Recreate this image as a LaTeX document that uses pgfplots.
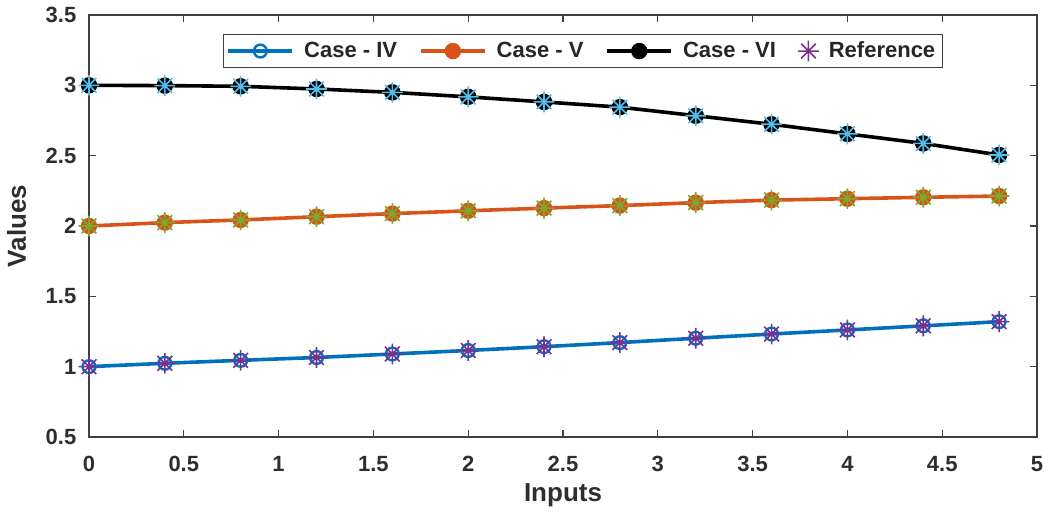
\documentclass[border=0pt]{standalone}
\usepackage{pgfplots}
\pgfplotsset{compat=1.18}
\usepackage{fontspec}
\setmainfont{Liberation Sans}
\definecolor{mblue}{rgb}{0,0.447,0.741}
\definecolor{morange}{rgb}{0.85,0.325,0.098}
\definecolor{mpurple}{rgb}{0.494,0.184,0.556}
\definecolor{mgreen}{rgb}{0.466,0.674,0.188}
\definecolor{mcyan}{rgb}{0.301,0.745,0.933}
\definecolor{axgray}{rgb}{0.25,0.25,0.25}
\pgfdeclareplotmark{ast8}{%
  \pgfpathmoveto{\pgfqpoint{-\pgfplotmarksize}{0pt}}\pgfpathlineto{\pgfqpoint{\pgfplotmarksize}{0pt}}%
  \pgfpathmoveto{\pgfqpoint{0pt}{-\pgfplotmarksize}}\pgfpathlineto{\pgfqpoint{0pt}{\pgfplotmarksize}}%
  \pgfpathmoveto{\pgfqpoint{-0.707\pgfplotmarksize}{-0.707\pgfplotmarksize}}\pgfpathlineto{\pgfqpoint{0.707\pgfplotmarksize}{0.707\pgfplotmarksize}}%
  \pgfpathmoveto{\pgfqpoint{-0.707\pgfplotmarksize}{0.707\pgfplotmarksize}}\pgfpathlineto{\pgfqpoint{0.707\pgfplotmarksize}{-0.707\pgfplotmarksize}}%
  \pgfusepathqstroke}
\begin{document}
\begin{tikzpicture}
\begin{axis}[
  scale only axis,
  width=474pt, height=211pt,
  xmin=0, xmax=5, ymin=0.5, ymax=3.5,
  xtick={0,0.5,...,5}, ytick={0.5,1,...,3.5},
  xticklabels={0,0.5,1,1.5,2,2.5,3,3.5,4,4.5,5},
  yticklabels={0.5,1,1.5,2,2.5,3,3.5},
  tick align=inside,
  major tick length=3.5pt,
  tick style={axgray, line width=0.6pt},
  axis line style={axgray, line width=0.6pt},
  ticklabel style={font=\fontsize{11}{13}\selectfont\bfseries, text=black!82},
  xticklabel style={yshift=-6pt},
  yticklabel style={xshift=-2.8pt},
  xlabel={Inputs}, ylabel={Values},
  label style={font=\fontsize{13}{15}\selectfont\bfseries, text=black!82},
  xlabel style={at={(axis description cs:0.5,-0.154)}, anchor=base},
  ylabel style={at={(axis description cs:-0.094,0.5)}, anchor=north},
  legend columns=4,
  legend image code/.code={\draw[mark repeat=2,mark phase=2] plot coordinates {(0pt,0pt) (16pt,0pt) (32pt,0pt)};},
  legend style={at={(0.521,0.955)}, anchor=north, draw=axgray, line width=0.6pt,
    font=\fontsize{11}{13}\selectfont\bfseries, inner sep=1.5pt, text=black!85,
    /tikz/every odd column/.append style={column sep=3pt},
    /tikz/every even column/.append style={column sep=9pt}},
  legend cell align=left,
]
\addplot[mblue, line width=1.8pt, mark=o, mark size=3.2pt, mark options={fill=white, line width=1.2pt}] coordinates {
(0,1.000) (0.4,1.024) (0.8,1.045) (1.2,1.065) (1.6,1.090) (2.0,1.115) (2.4,1.142)
(2.8,1.171) (3.2,1.202) (3.6,1.232) (4.0,1.261) (4.4,1.290) (4.8,1.320)};
\addlegendentry{Case - IV}
\addplot[morange, line width=1.8pt, mark=*, mark size=3.2pt] coordinates {
(0,2.000) (0.4,2.024) (0.8,2.043) (1.2,2.066) (1.6,2.088) (2.0,2.108) (2.4,2.127)
(2.8,2.145) (3.2,2.166) (3.6,2.184) (4.0,2.194) (4.4,2.204) (4.8,2.213)};
\addlegendentry{Case - V}
\addplot[black, line width=1.8pt, mark=*, mark size=3.2pt] coordinates {
(0,3.000) (0.4,2.998) (0.8,2.993) (1.2,2.974) (1.6,2.950) (2.0,2.918) (2.4,2.882)
(2.8,2.845) (3.2,2.784) (3.6,2.723) (4.0,2.655) (4.4,2.587) (4.8,2.505)};
\addlegendentry{Case - VI}
\addplot[only marks, mpurple, mark=ast8, mark size=5.2pt, line width=0.8pt] coordinates {
(0,1.000) (0.4,1.024) (0.8,1.045) (1.2,1.065) (1.6,1.090) (2.0,1.115) (2.4,1.142)
(2.8,1.171) (3.2,1.202) (3.6,1.232) (4.0,1.261) (4.4,1.290) (4.8,1.320)};
\addlegendentry{Reference}
\addplot[only marks, mgreen, mark=ast8, mark size=5.2pt, line width=0.8pt, forget plot] coordinates {
(0,2.000) (0.4,2.024) (0.8,2.043) (1.2,2.066) (1.6,2.088) (2.0,2.108) (2.4,2.127)
(2.8,2.145) (3.2,2.166) (3.6,2.184) (4.0,2.194) (4.4,2.204) (4.8,2.213)};
\addplot[only marks, mcyan, mark=ast8, mark size=5.2pt, line width=0.8pt, forget plot] coordinates {
(0,3.000) (0.4,2.998) (0.8,2.993) (1.2,2.974) (1.6,2.950) (2.0,2.918) (2.4,2.882)
(2.8,2.845) (3.2,2.784) (3.6,2.723) (4.0,2.655) (4.4,2.587) (4.8,2.505)};
\end{axis}
\path ([xshift=-44.5pt,yshift=-36.5pt]current axis.south west) rectangle ([xshift=6.5pt,yshift=7.5pt]current axis.north east);
\end{tikzpicture}
\end{document}
